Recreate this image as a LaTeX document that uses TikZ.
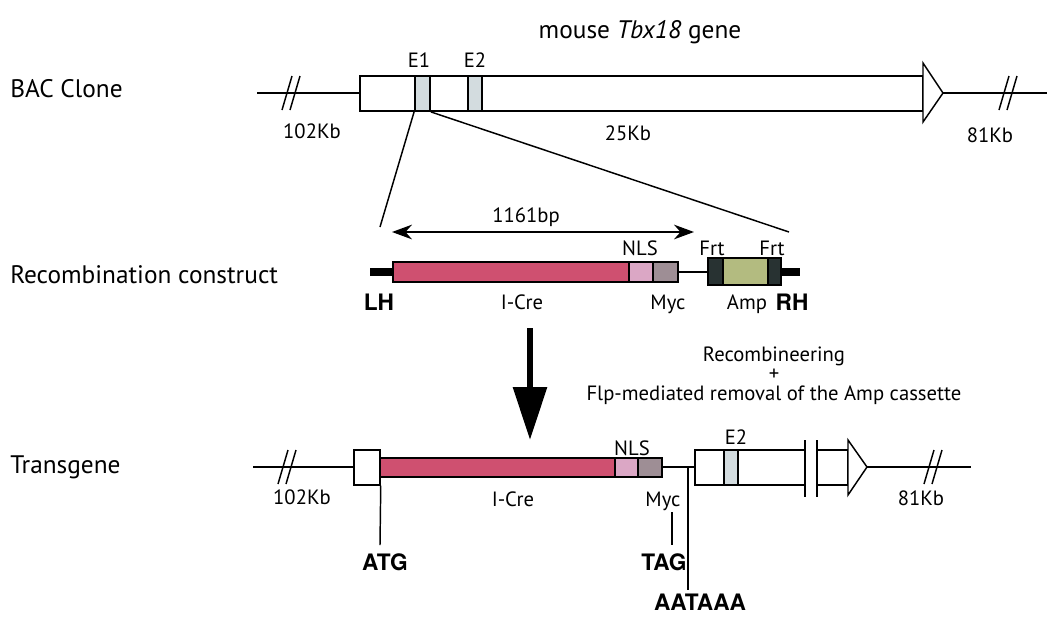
\documentclass[tikz,border=0pt]{standalone}
\usepackage{fontspec}
\setmainfont{PT Sans}
\newfontfamily\heavyfont{TeX Gyre Heros}
\usetikzlibrary{arrows.meta,fit,positioning}
\definecolor{crered}{HTML}{CF5070}
\definecolor{nlspink}{HTML}{DBA7C5}
\definecolor{mycgray}{HTML}{9E8E95}
\definecolor{ampgreen}{HTML}{B3BB80}
\definecolor{frtdark}{HTML}{283232}
\definecolor{exonblue}{HTML}{D3DCDF}
\tikzset{
	gline/.style={line width=1.1pt},
	seg/.style={draw, line width=1.1pt, fill=white, inner sep=0pt},
	exonbox/.style={seg, fill=exonblue, line width=1.4pt},
	stub/.style={line width=5.3pt},
	lbl/.style={font=\fontsize{15.5}{17}\selectfont, inner sep=0pt, anchor=base},
	rowlbl/.style={font=\fontsize{19}{22}\selectfont, inner sep=0pt, anchor=base west},
	heavylbl/.style={font=\heavyfont\bfseries\fontsize{17}{19}\selectfont, inner sep=0pt, anchor=base},
	cut/.pic={\draw[gline] (-10,17) -- (0,-17); \draw[gline] (-2,17) -- (8,-17);}
}
\begin{document}
\begin{tikzpicture}[x=0.75pt, y=-0.75pt]
	\useasboundingbox (0,0) rectangle (1050,619);

	% row labels
	\node[rowlbl] (bacrow) at (10,97) {BAC Clone};
	\node[rowlbl] (recrow) at (10,283) {Recombination construct};
	\node[rowlbl] (tgrow) at (10,473) {Transgene};

	% BAC clone
	\node[lbl, font=\fontsize{19}{22}\selectfont] (title) at (640,38) {mouse \textit{Tbx18} gene};
	\draw[gline] (257,93) -- (1047,93);
	\pic at (292,93) {cut};
	\pic at (1009,93) {cut};
	\node[seg, fit={(360,76)(923,111)}] (bac) {};
	\draw[seg] (923,63) -- (943,93) -- (923,122) -- cycle;
	\node[exonbox, fit={(415,76)(430,111)}] (e1) {};
	\node[exonbox, fit={(468,76)(482,111)}] (e2) {};
	\node[lbl] (e1lbl) at (419,67) {E1};
	\node[lbl] (e2lbl) at (475,67) {E2};
	\node[lbl] (left1) at (312,138) {102Kb};
	\node[lbl] (mid1) at (628,140) {25Kb};
	\node[lbl] (right1) at (990,142) {81Kb};

	% zoom into E1
	\coordinate (lhend) at (380,227);
	\coordinate (rhend) at (789,232);
	\draw[gline] (e1.south west) -- (lhend);
	\draw[gline] (e1.south east) -- (rhend);

	% recombination construct
	\draw[stub] (370,272) -- (395,272);
	\draw[gline] (678,272) -- (708,272);
	\draw[stub] (780,272) -- (800,272);
	\node[seg, fill=crered, fit={(393,262)(629,282)}] (cre) {};
	\node[seg, fill=nlspink, fit={(629,262)(653,282)}] (nls) {};
	\node[seg, fill=mycgray, fit={(653,262)(678,282)}] (myc) {};
	\node[seg, fill=frtdark, fit={(708,258)(723,285)}] (frta) {};
	\node[seg, fill=ampgreen, fit={(723,258)(768,285)}] (amp) {};
	\node[seg, fill=frtdark, fit={(768,258)(781,285)}] (frtb) {};
	\coordinate (bpl) at (392,232);
	\coordinate (bpr) at (694,232);
	\draw[gline, {Stealth[length=15pt,width=11pt]}-{Stealth[length=15pt,width=11pt]}] (bpl) -- (bpr);
	\node[lbl] (bp) at (526,222) {1161bp};
	\node[lbl] (nlslbl) at (640,255) {NLS};
	\node[lbl] (frtalbl) at (712,255) {Frt};
	\node[lbl] (frtblbl) at (772,255) {Frt};
	\node[heavylbl] (lh) at (379,310) {LH};
	\node[lbl] (crelbl) at (522,309) {I-Cre};
	\node[lbl] (myclbl) at (668,309) {Myc};
	\node[lbl] (amplbl) at (747,309) {Amp};
	\node[heavylbl] (rh) at (792,310) {RH};

	% big arrow
	\coordinate (arrtop) at (530,328);
	\coordinate (arrtip) at (530,440);
	\draw[line width=4.5pt, -{Triangle[length=39.75pt,width=24.75pt]}] (arrtop) -- (arrtip);
	\node[lbl] (recomb) at (774,361) {Recombineering};
	\node[font=\fontsize{15.5}{17}\selectfont, inner sep=0pt] (plus) at (774,375) {+};
	\node[lbl] (flp) at (774,400) {Flp-mediated removal of the Amp cassette};

	% transgene
	\draw[gline] (253,467) -- (355,467);
	\draw[gline] (662,467) -- (695,467);
	\draw[gline] (867,467) -- (971,467);
	\pic at (288,467) {cut};
	\pic at (934,467) {cut};
	\node[seg, fit={(354,450)(380,485)}] (atgbox) {};
	\node[seg, fill=crered, fit={(380,458)(615,477)}] (cre2) {};
	\node[seg, fill=nlspink, fit={(615,458)(638,477)}] (nls2) {};
	\node[seg, fill=mycgray, fit={(638,458)(662,477)}] (myc2) {};
	\node[seg, fit={(695,450)(805,485)}] (tgbox) {};
	\node[exonbox, line width=1.7pt, fit={(724,450)(738,485)}] (e2b) {};
	\draw[gline] (805,440) -- (805,497);
	\draw[gline] (817,440) -- (817,497);
	\node[seg, fit={(817,450)(848,485)}] (endbox) {};
	\draw[seg] (848,440) -- (867,467) -- (848,495) -- cycle;
	\node[lbl] (e2blbl) at (736,444) {E2};
	\node[lbl] (nls2lbl) at (632,455) {NLS};
	\node[lbl] (left2) at (302,504) {102Kb};
	\node[lbl] (cre2lbl) at (513,506) {I-Cre};
	\node[lbl] (myc2lbl) at (663,506) {Myc};
	\node[lbl] (right2) at (921,505) {81Kb};

	% sites
	\node[heavylbl] (atg) at (385,570) {ATG};
	\node[heavylbl] (tag) at (664,570) {TAG};
	\node[heavylbl] (polya) at (700,610) {AATAAA};
	\coordinate (atgend) at (380,545);
	\coordinate (tagtop) at (672,512);
	\coordinate (tagend) at (672,545);
	\coordinate (polyatop) at (688,467);
	\coordinate (polyaend) at (688,590);
	\draw[gline] (atgbox.south east) -- (atgend);
	\draw[gline] (tagtop) -- (tagend);
	\draw[gline] (polyatop) -- (polyaend);
\end{tikzpicture}
\end{document}
